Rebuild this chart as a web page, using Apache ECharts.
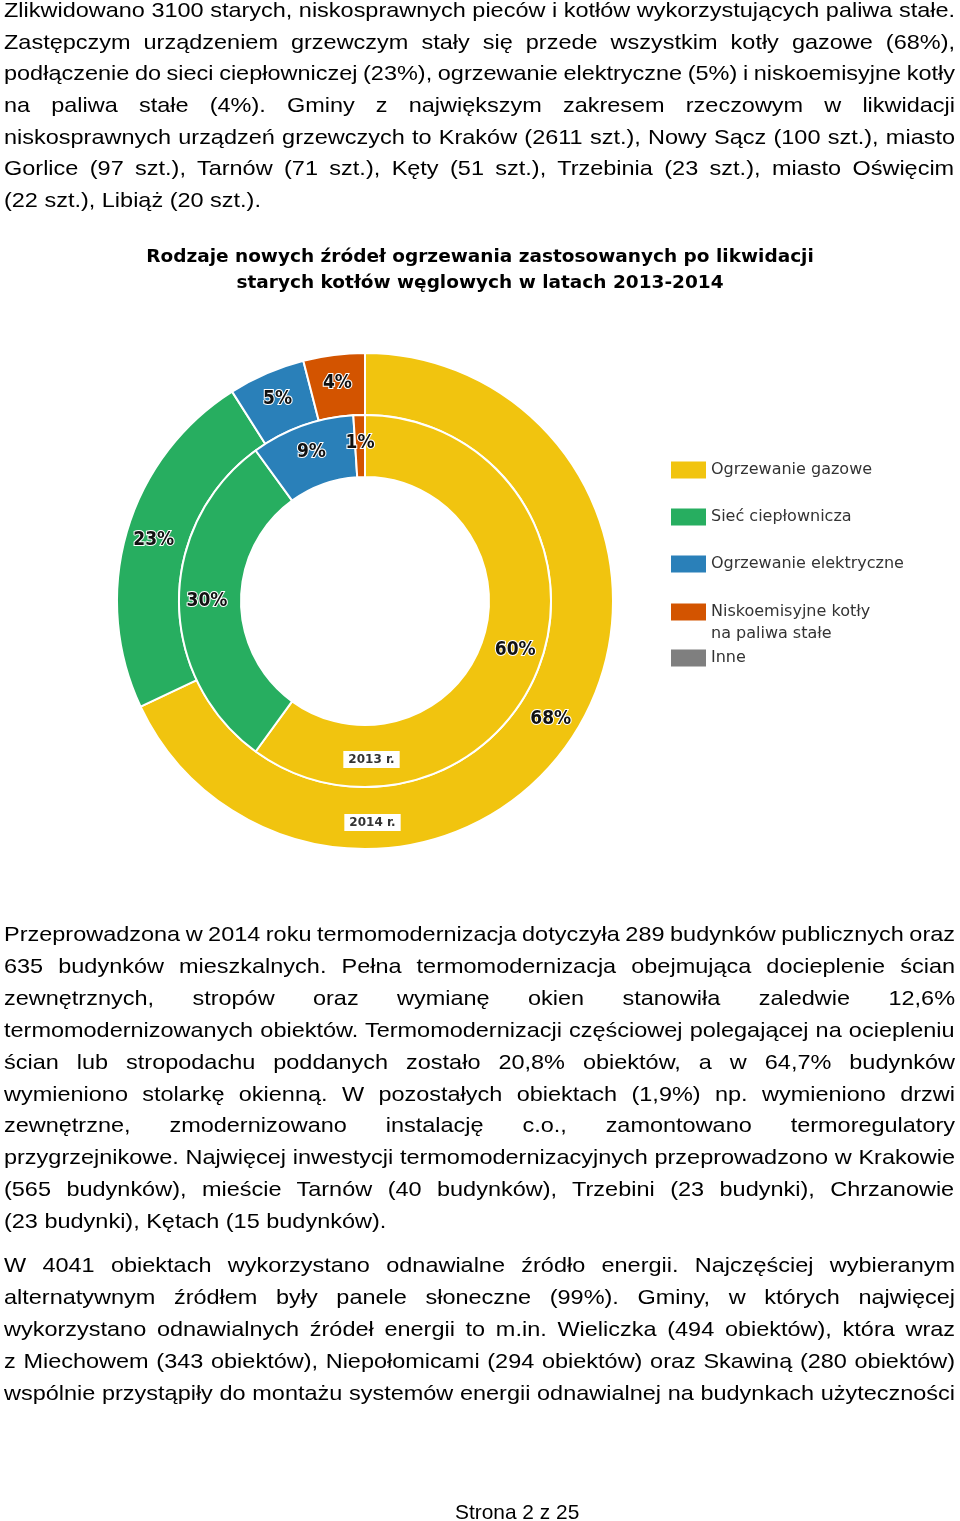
<!DOCTYPE html>
<html><head><meta charset="utf-8">
<script src="https://cdn.jsdelivr.net/npm/echarts/dist/echarts.min.js"></script>
<style>
html,body{margin:0;padding:0;background:#fff;}
#page{position:relative;width:960px;height:1521px;overflow:hidden;background:#fff;}
#chart{position:absolute;left:0;top:0;width:960px;height:1521px;}
.ln{position:absolute;white-space:nowrap;font-family:"Liberation Sans",Arial,sans-serif;font-size:21px;line-height:32px;height:32px;color:#000;transform-origin:0 50%;}
</style></head>
<body><div id="page"><div id="chart"></div><div id="text"></div></div>
<script>
// ---- chart data ----
const categories = ['Ogrzewanie gazowe', 'Sieć ciepłownicza', 'Ogrzewanie elektryczne', 'Niskoemisyjne kotły na paliwa stałe', 'Inne'];
const legendLabels = ['Ogrzewanie gazowe', 'Sieć ciepłownicza', 'Ogrzewanie elektryczne', 'Niskoemisyjne kotły\nna paliwa stałe', 'Inne'];
const values2014 = [68, 23, 5, 4, 0];
const values2013 = [60, 30, 9, 1, 0];
const ringNames = ['2013 r.', '2014 r.'];
const colors = ['#F1C40F', '#27AE60', '#2A80B9', '#D35400', '#7F7F7F'];
const titleLines = ['Rodzaje nowych źródeł ogrzewania zastosowanych po likwidacji', 'starych kotłów węglowych w latach 2013-2014'];

// ---- page text ----
const para1 = [
 'Zlikwidowano 3100 starych, niskosprawnych pieców i kotłów wykorzystujących paliwa stałe.',
 'Zastępczym urządzeniem grzewczym stały się przede wszystkim kotły gazowe (68%),',
 'podłączenie do sieci ciepłowniczej (23%), ogrzewanie elektryczne (5%) i niskoemisyjne kotły',
 'na paliwa stałe (4%). Gminy z największym zakresem rzeczowym w likwidacji',
 'niskosprawnych urządzeń grzewczych to Kraków (2611 szt.), Nowy Sącz (100 szt.), miasto',
 'Gorlice (97 szt.), Tarnów (71 szt.), Kęty (51 szt.), Trzebinia (23 szt.), miasto Oświęcim',
 '(22 szt.), Libiąż (20 szt.).'
];
const para2 = [
 'Przeprowadzona w 2014 roku termomodernizacja dotyczyła 289 budynków publicznych oraz',
 '635 budynków mieszkalnych. Pełna termomodernizacja obejmująca docieplenie ścian',
 'zewnętrznych, stropów oraz wymianę okien stanowiła zaledwie 12,6%',
 'termomodernizowanych obiektów. Termomodernizacji częściowej polegającej na ociepleniu',
 'ścian lub stropodachu poddanych zostało 20,8% obiektów, a w 64,7% budynków',
 'wymieniono stolarkę okienną. W pozostałych obiektach (1,9%) np. wymieniono drzwi',
 'zewnętrzne, zmodernizowano instalację c.o., zamontowano termoregulatory',
 'przygrzejnikowe. Najwięcej inwestycji termomodernizacyjnych przeprowadzono w Krakowie',
 '(565 budynków), mieście Tarnów (40 budynków), Trzebini (23 budynki), Chrzanowie',
 '(23 budynki), Kętach (15 budynków).'
];
const para3 = [
 'W 4041 obiektach wykorzystano odnawialne źródło energii. Najczęściej wybieranym',
 'alternatywnym źródłem były panele słoneczne (99%). Gminy, w których najwięcej',
 'wykorzystano odnawialnych źródeł energii to m.in. Wieliczka (494 obiektów), która wraz',
 'z Miechowem (343 obiektów), Niepołomicami (294 obiektów) oraz Skawiną (280 obiektów)',
 'wspólnie przystąpiły do montażu systemów energii odnawialnej na budynkach użyteczności'
];
const footer = 'Strona 2 z 25';

// ---- text layout ----
(function(){
  const holder = document.getElementById('text');
  const cv = document.createElement('canvas');
  const ctx = cv.getContext('2d');
  ctx.font = '21px "Liberation Sans"';
  const target = 951, left = 4;
  const sx = target / ctx.measureText(para1[0]).width;
  function put(t, cy, mode, x, scale) {
    const k = scale || sx;
    const d = document.createElement('div');
    d.className = 'ln';
    d.textContent = t;
    d.style.top = (cy - 16) + 'px';
    d.style.transform = 'scaleX(' + k + ')';
    const nat = ctx.measureText(t).width;
    if (mode === 'justify') {
      const n = (t.match(/ /g) || []).length;
      if (n) d.style.wordSpacing = ((target / k - nat) / n) + 'px';
      d.style.left = left + 'px';
    } else if (mode === 'center') {
      d.style.left = (x - nat * k / 2) + 'px';
    } else {
      d.style.left = left + 'px';
    }
    holder.appendChild(d);
  }
  function para(lines, y0, step, lastJust) {
    lines.forEach((t, i) => put(t, y0 + i * step, (i < lines.length - 1 || lastJust) ? 'justify' : 'left'));
  }
  para(para1, 10, 31.67, false);
  para(para2, 934, 31.9, false);
  para(para3, 1265, 32, true);
  put(footer, 1512, 'center', 517, sx * 0.89);
})();

// ---- chart ----
const chart = echarts.init(document.getElementById('chart'), null, {renderer: 'canvas'});
const legendText = {fontFamily: '"DejaVu Sans", sans-serif', fontSize: 16, lineHeight: 22, color: '#333'};
const legendBase = {orient: 'vertical', left: 671, padding: 0, itemWidth: 35, itemHeight: 17, itemGap: 25,
  icon: 'rect', selectedMode: false, textStyle: legendText, itemStyle: {borderWidth: 0},
  formatter: name => legendLabels[categories.indexOf(name)]};
const labelStyle = {
  show: true, position: 'inside',
  formatter: p => p.value ? p.value + '%' : '',
  fontFamily: '"Liberation Sans Narrow","DejaVu Sans Condensed",sans-serif',
  fontWeight: 'bold', fontSize: 19, color: '#111', textBorderColor: '#fff', textBorderWidth: 2
};
function pieData(vals) { return categories.map((c, i) => ({name: c, value: vals[i]})); }
chart.setOption({
  animation: false,
  color: colors,
  title: {text: titleLines.join('\n'), left: 'center', top: 244, padding: 0,
    textStyle: {fontFamily: '"DejaVu Sans", sans-serif', fontWeight: 'bold', fontSize: 18.5, lineHeight: 26, color: '#000'}},
  legend: [
    Object.assign({}, legendBase, {top: 459, data: categories.slice(0, 3)}),
    Object.assign({}, legendBase, {top: 579, data: [categories[3]], formatter: name => ' \n' + legendLabels[3]}),
    Object.assign({}, legendBase, {top: 647, data: [categories[4]]})
  ],
  series: [
    {name: ringNames[1], type: 'pie', center: [365, 601], radius: [186, 248], startAngle: 90, clockwise: true,
     silent: true, data: pieData(values2014), label: labelStyle, labelLine: {show: false},
     itemStyle: {borderColor: '#fff', borderWidth: 2}},
    {name: ringNames[0], type: 'pie', center: [365, 601], radius: [124, 186], startAngle: 90, clockwise: true,
     silent: true, data: pieData(values2013), label: labelStyle, labelLine: {show: false},
     itemStyle: {borderColor: '#fff', borderWidth: 2}}
  ],
  graphic: [
    {type: 'text', x: 371.5, y: 759.5, z: 100, style: {text: ringNames[0], align: 'center', verticalAlign: 'middle',
      backgroundColor: '#fff', padding: [3, 5, 2, 5], font: 'bold 12px "DejaVu Sans"', fill: '#333'}},
    {type: 'text', x: 372.5, y: 822.5, z: 100, style: {text: ringNames[1], align: 'center', verticalAlign: 'middle',
      backgroundColor: '#fff', padding: [3, 5, 2, 5], font: 'bold 12px "DejaVu Sans"', fill: '#333'}}
  ]
});
</script>
</body></html>
